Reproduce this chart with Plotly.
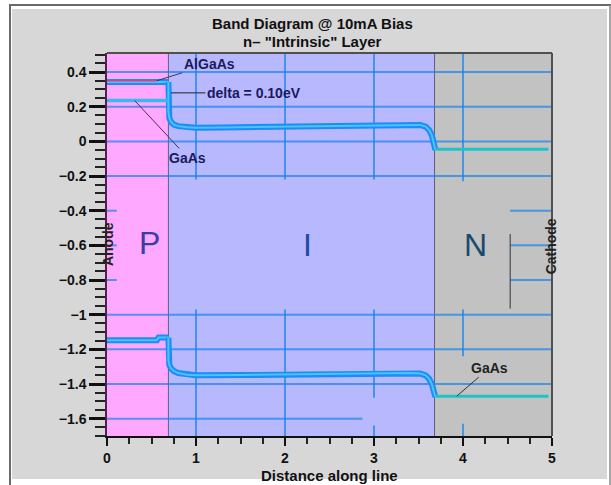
import plotly.graph_objects as go

# ---------------- data ----------------
cb_p_x = [0.0, 0.69]
cb_p_y = [0.342, 0.342]
algaas_edge_x = [0.0, 0.56]
algaas_edge_y = [0.350, 0.350]
gaas_p_x = [0.0, 0.69]
gaas_p_y = [0.236, 0.236]
cb_i_x = [0.69, 0.69, 0.70, 0.72, 0.75, 0.80, 0.90, 1.0, 1.3, 1.6, 2.0, 2.5, 3.0, 3.4, 3.52, 3.58, 3.62, 3.65, 3.67, 3.69]
cb_i_y = [0.342, 0.17, 0.135, 0.112, 0.097, 0.088, 0.082, 0.079, 0.080, 0.082, 0.085, 0.089, 0.094, 0.097, 0.095, 0.085, 0.065, 0.035, 0.0, -0.05]
cb_n_x = [3.69, 4.96]
cb_n_y = [-0.045, -0.045]
vb_p_x = [0.0, 0.56, 0.58, 0.69]
vb_p_y = [-1.148, -1.148, -1.132, -1.132]
vb_i_x = [0.69, 0.69, 0.70, 0.72, 0.75, 0.80, 0.90, 1.0, 1.5, 2.0, 2.5, 3.0, 3.4, 3.52, 3.58, 3.62, 3.65, 3.67, 3.69]
vb_i_y = [-1.132, -1.26, -1.29, -1.31, -1.325, -1.337, -1.347, -1.35, -1.348, -1.345, -1.342, -1.338, -1.337, -1.34, -1.35, -1.37, -1.40, -1.44, -1.475]
vb_n_x = [3.69, 4.96]
vb_n_y = [-1.47, -1.47]

regions = ["P", "I", "N"]
region_x0 = [0.0, 0.69, 3.68]
region_x1 = [0.69, 3.68, 5.0]

x_range = [0, 5]
y_range = [-1.7, 0.51]
x_ticks = [0, 1, 2, 3, 4, 5]
y_ticks = [0.4, 0.2, 0, -0.2, -0.4, -0.6, -0.8, -1, -1.2, -1.4, -1.6]

title_lines = ["Band Diagram @ 10mA Bias", 'n– "Intrinsic" Layer']
x_title = "Distance along line"

# ---------------- styling ----------------
FONT = "Liberation Sans"
W, H = 611, 485
L, R, T, B = 107, 59, 53, 49
PW, PH = W - L - R, H - T - B


def px(xp):
    return (xp - L) / PW


def py(yp):
    return (H - B - yp) / PH


fig = go.Figure()

blue_outer = "#1e8cf5"
blue_inner = "#48c4ff"
teal = "#1cc4c8"

for xs, ys in [(cb_p_x, cb_p_y), (cb_i_x, cb_i_y), (vb_p_x, vb_p_y), (vb_i_x, vb_i_y)]:
    fig.add_trace(go.Scatter(x=xs, y=ys, mode="lines", line=dict(color=blue_outer, width=6),
                             hoverinfo="skip", showlegend=False))
    fig.add_trace(go.Scatter(x=xs, y=ys, mode="lines", line=dict(color=blue_inner, width=2),
                             hoverinfo="skip", showlegend=False))
fig.add_trace(go.Scatter(x=algaas_edge_x, y=algaas_edge_y, mode="lines",
                         line=dict(color="#e0407a", width=1.5), hoverinfo="skip", showlegend=False))
fig.add_trace(go.Scatter(x=gaas_p_x, y=gaas_p_y, mode="lines",
                         line=dict(color="#38b8f8", width=3.5), hoverinfo="skip", showlegend=False))
for xs, ys in [(cb_n_x, cb_n_y), (vb_n_x, vb_n_y)]:
    fig.add_trace(go.Scatter(x=xs, y=ys, mode="lines", line=dict(color=teal, width=3),
                             hoverinfo="skip", showlegend=False))

shapes = []
# outer figure frame / gray panel
shapes.append(dict(type="rect", xref="paper", yref="paper", x0=px(12), x1=px(607), y0=py(479), y1=py(9),
                   fillcolor="#d7d7d7", line=dict(width=0), layer="below"))
shapes.append(dict(type="line", xref="paper", yref="paper", x0=px(9), x1=px(611), y0=py(5), y1=py(5),
                   line=dict(color="#6a6a6a", width=2), layer="below"))
shapes.append(dict(type="line", xref="paper", yref="paper", x0=px(10), x1=px(10), y0=py(485), y1=py(5),
                   line=dict(color="#6a6a6a", width=2), layer="below"))
shapes.append(dict(type="line", xref="paper", yref="paper", x0=px(610), x1=px(610), y0=py(485), y1=py(5),
                   line=dict(color="#8a8a8a", width=1.5), layer="below"))

region_fill = ["#ffa8ff", "#b8b8ff", "#c2c2c2"]
for i in range(len(regions)):
    shapes.append(dict(type="rect", xref="x", yref="y", x0=region_x0[i], x1=region_x1[i],
                       y0=y_range[0], y1=y_range[1], fillcolor=region_fill[i],
                       line=dict(width=0), layer="below"))
for xb in region_x1[:2]:
    shapes.append(dict(type="line", xref="x", yref="y", x0=xb, x1=xb, y0=y_range[0], y1=y_range[1],
                       line=dict(color="#606080", width=1), layer="below"))

grid_col = "rgba(20,130,240,0.70)"
hsegs = [(0.4, 0, 5), (0.2, 0, 5), (0, 0, 5), (-0.2, 0, 5), (-1, 0, 5), (-1.2, 0, 5), (-1.4, 0, 5),
         (-1.6, 0, 2.87), (-0.4, 0, 0.11), (-0.6, 0, 0.11), (-0.8, 0, 0.11),
         (-0.4, 4.53, 5), (-0.6, 4.53, 5), (-0.8, 4.53, 5)]
for yv, xa, xb in hsegs:
    shapes.append(dict(type="line", xref="x", yref="y", x0=xa, x1=xb, y0=yv, y1=yv,
                       line=dict(color=grid_col, width=2), layer="below"))
vsegs = [(1, 0.51, -0.22), (1, -0.97, -1.7), (2, 0.51, -0.22), (2, -0.97, -1.7),
         (3, 0.51, -0.22), (3, -0.97, -1.48), (3, -1.64, -1.7),
         (4, 0.51, -0.23), (4, -0.97, -1.24), (4, -1.63, -1.7)]
for xv, ya, yb in vsegs:
    shapes.append(dict(type="line", xref="x", yref="y", x0=xv, x1=xv, y0=ya, y1=yb,
                       line=dict(color=grid_col, width=2), layer="below"))
# black marker line in N region
shapes.append(dict(type="line", xref="x", yref="y", x0=4.53, x1=4.53, y0=-0.535, y1=-0.965,
                   line=dict(color="#333333", width=1)))
# plot frame top/right
shapes.append(dict(type="line", xref="paper", yref="paper", x0=0, x1=1, y0=1, y1=1,
                   line=dict(color="#505050", width=2)))
shapes.append(dict(type="line", xref="paper", yref="paper", x0=1, x1=1, y0=0, y1=1,
                   line=dict(color="#505050", width=2)))

bold = dict(family=FONT, size=14, color="#1a1a5c", weight="bold")
ann = []
ann.append(dict(x=0.56, y=0.350, ax=1.15, ay=0.445, axref="x", ayref="y", text="AlGaAs",
                showarrow=True, arrowhead=0, arrowwidth=1, arrowcolor="#50304a", font=bold))
ann.append(dict(x=0.72, y=0.28, ax=1.65, ay=0.28, axref="x", ayref="y", text="delta = 0.10eV",
                showarrow=True, arrowhead=0, arrowwidth=1, arrowcolor="#222222", font=bold))
ann.append(dict(x=0.31, y=0.236, ax=0.91, ay=-0.095, axref="x", ayref="y", text="GaAs",
                showarrow=True, arrowhead=0, arrowwidth=1, arrowcolor="#50304a", font=bold))
ann.append(dict(x=3.93, y=-1.47, ax=4.30, ay=-1.306, axref="x", ayref="y", text="GaAs",
                showarrow=True, arrowhead=0, arrowwidth=1, arrowcolor="#333333",
                font=dict(family=FONT, size=14, color="#222222", weight="bold")))

letter_x = [0.483, 2.255, 4.146]
letter_y = [-0.585, -0.595, -0.595]
letter_col = ["#3c3ca8", "#1c4aa8", "#1a4a6e"]
for i, r in enumerate(regions):
    ann.append(dict(x=letter_x[i], y=letter_y[i], text=r, showarrow=False,
                    xanchor="center", yanchor="middle",
                    font=dict(family=FONT, size=32, color=letter_col[i])))
ann.append(dict(x=0.005, y=-0.59, text="Anode", textangle=-90, showarrow=False,
                xanchor="center", yanchor="middle",
                font=dict(family=FONT, size=14, color="#222222", weight="bold")))
ann.append(dict(x=4.99, y=-0.605, text="Cathode", textangle=-90, showarrow=False,
                xanchor="center", yanchor="middle",
                font=dict(family=FONT, size=14, color="#222222", weight="bold")))
ann.append(dict(xref="paper", yref="paper", x=px(312), y=py(24), text=title_lines[0], showarrow=False,
                xanchor="center", yanchor="middle",
                font=dict(family=FONT, size=15, color="#111111", weight="bold")))
ann.append(dict(xref="paper", yref="paper", x=px(312), y=py(41), text=title_lines[1], showarrow=False,
                xanchor="center", yanchor="middle",
                font=dict(family=FONT, size=15, color="#111111", weight="bold")))
ann.append(dict(xref="paper", yref="paper", x=px(329), y=py(475), text=x_title, showarrow=False,
                xanchor="center", yanchor="middle",
                font=dict(family=FONT, size=15, color="#111111", weight="bold")))

tickfont = dict(family=FONT, size=14, color="#111111", weight="bold")
fig.update_layout(
    width=W, height=H,
    margin=dict(l=L, r=R, t=T, b=B, pad=0),
    paper_bgcolor="white", plot_bgcolor="#b8b8ff",
    shapes=shapes, annotations=ann, showlegend=False,
    xaxis=dict(range=x_range, tickvals=x_ticks, showgrid=False, zeroline=False,
               ticks="outside", ticklen=8, tickwidth=2, tickcolor="#111111",
               showline=True, linecolor="#111111", linewidth=2, tickfont=tickfont,
               minor=dict(dtick=0.25, ticks="outside", ticklen=6, tickwidth=1.5, tickcolor="#222222",
                          showgrid=False)),
    yaxis=dict(range=y_range, tickvals=y_ticks, showgrid=False, zeroline=False,
               ticks="outside", ticklen=16, tickwidth=2.5, tickcolor="#111111",
               showline=True, linecolor="#502050", linewidth=1.5, tickfont=tickfont,
               minor=dict(dtick=0.05, tick0=0, ticks="outside", ticklen=10, tickwidth=1.5,
                          tickcolor="#222222", showgrid=False)),
)

fig.write_html("out.html")
